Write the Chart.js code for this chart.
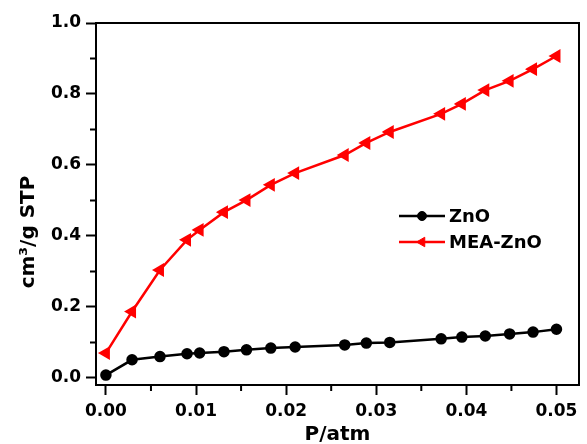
<!DOCTYPE html>
<html>
<head>
<meta charset="utf-8">
<script src="https://cdn.jsdelivr.net/npm/chart.js@4/dist/chart.umd.min.js"></script>
<style>
  html, body { margin: 0; padding: 0; background: #fff; }
  #wrap { width: 587px; height: 444px; }
</style>
</head>
<body>
<div id="wrap"><canvas id="chart"></canvas></div>
<script>
// pressure values (shared by both series)
const pressure = [0.0000, 0.0029, 0.0060, 0.0090, 0.0104, 0.0131, 0.0156, 0.0183, 0.0210,
                  0.0265, 0.0289, 0.0315, 0.0372, 0.0395, 0.0421, 0.0448, 0.0474, 0.0500];
const zno = [0.008, 0.051, 0.060, 0.068, 0.070, 0.074, 0.079, 0.084, 0.087,
             0.093, 0.098, 0.100, 0.110, 0.115, 0.118, 0.124, 0.129, 0.137];
const meaZno = [0.070, 0.187, 0.304, 0.389, 0.417, 0.467, 0.501, 0.544, 0.577,
                0.628, 0.662, 0.693, 0.744, 0.772, 0.811, 0.837, 0.870, 0.907];
const seriesNames = ['ZnO', 'MEA-ZnO'];
const xMinorTicks = [0.005, 0.015, 0.025, 0.035, 0.045];
const yMinorTicks = [0.1, 0.3, 0.5, 0.7, 0.9];
const yTitle = 'cm\u00B3/g STP';
const xTitle = 'P/atm';

const FONT = '"DejaVu Sans", Verdana, sans-serif';

function toPoints(ys) {
  return pressure.map((p, i) => ({x: p, y: ys[i]}));
}

// frame, minor ticks, y title and legend
const decor = {
  id: 'decor',
  afterDraw(chart) {
    const {ctx, chartArea: a, scales} = chart;
    ctx.save();
    ctx.strokeStyle = '#000';
    ctx.lineWidth = 2;
    ctx.strokeRect(a.left, a.top, a.right - a.left, a.bottom - a.top);

    ctx.beginPath();
    xMinorTicks.forEach(v => {
      const px = scales.x.getPixelForValue(v);
      ctx.moveTo(px, a.bottom);
      ctx.lineTo(px, a.bottom + 6);
    });
    yMinorTicks.forEach(v => {
      const py = scales.y.getPixelForValue(v);
      ctx.moveTo(a.left, py);
      ctx.lineTo(a.left - 6, py);
    });
    ctx.stroke();

    // y title
    ctx.save();
    ctx.translate(29, 232);
    ctx.rotate(-Math.PI / 2);
    ctx.font = 'bold 20px ' + FONT;
    ctx.fillStyle = '#000';
    ctx.textAlign = 'center';
    ctx.textBaseline = 'middle';
    ctx.fillText(yTitle, 0, 0);
    ctx.restore();

    // legend
    const rows = [216, 242];
    chart.data.datasets.forEach((ds, i) => {
      const y = rows[i];
      ctx.strokeStyle = ds.borderColor;
      ctx.lineWidth = 2.5;
      ctx.beginPath();
      ctx.moveTo(399, y);
      ctx.lineTo(445, y);
      ctx.stroke();
      ctx.fillStyle = ds.pointBackgroundColor;
      ctx.strokeStyle = ds.pointBorderColor;
      ctx.lineWidth = 1;
      Chart.helpers.drawPoint(ctx, {
        pointStyle: ds.pointStyle,
        rotation: ds.pointRotation || 0,
        radius: ds.pointRadius,
        borderWidth: 1
      }, 422, y);
      ctx.fillStyle = '#000';
      ctx.font = 'bold 18px ' + FONT;
      ctx.textAlign = 'left';
      ctx.textBaseline = 'middle';
      ctx.fillText(ds.label, 449, y + 1);
    });
    ctx.restore();
  }
};

new Chart(document.getElementById('chart'), {
  type: 'scatter',
  data: {
    datasets: [
      {
        label: seriesNames[0],
        data: toPoints(zno),
        showLine: true,
        borderColor: '#000',
        backgroundColor: '#000',
        pointBackgroundColor: '#000',
        pointBorderColor: '#000',
        borderWidth: 2.5,
        pointStyle: 'circle',
        pointRadius: 4.5
      },
      {
        label: seriesNames[1],
        data: toPoints(meaZno),
        showLine: true,
        borderColor: '#f00',
        backgroundColor: '#f00',
        pointBackgroundColor: '#f00',
        pointBorderColor: '#f00',
        borderWidth: 2.5,
        pointStyle: 'triangle',
        pointRotation: -90,
        pointRadius: 5.5
      }
    ]
  },
  options: {
    responsive: true,
    maintainAspectRatio: false,
    animation: false,
    layout: { padding: { left: 0, top: 23, right: 1, bottom: 0 } },
    plugins: {
      legend: { display: false },
      tooltip: { enabled: false }
    },
    scales: {
      x: {
        type: 'linear',
        min: -0.0011,
        max: 0.0525,
        afterFit: s => { s.height = 59; },
        border: { display: true, color: '#000', width: 2 },
        grid: { drawOnChartArea: false, drawTicks: true, tickLength: 10, tickWidth: 2, tickColor: '#000' },
        ticks: {
          stepSize: 0.01,
          includeBounds: false,
          padding: 6,
          maxRotation: 0,
          color: '#000',
          font: { family: FONT, size: 17, weight: 'bold' },
          callback: v => v.toFixed(2)
        },
        title: {
          display: true,
          text: xTitle,
          color: '#000',
          padding: { top: 0, bottom: -3 },
          font: { family: FONT, size: 20, weight: 'bold' }
        }
      },
      y: {
        type: 'linear',
        min: -0.02,
        max: 1.0,
        afterFit: s => { s.width = 96; },
        border: { display: true, color: '#000', width: 2 },
        grid: { drawOnChartArea: false, drawTicks: true, tickLength: 10, tickWidth: 2, tickColor: '#000' },
        ticks: {
          stepSize: 0.2,
          includeBounds: false,
          padding: 5,
          color: '#000',
          font: { family: FONT, size: 17, weight: 'bold' },
          callback: v => v.toFixed(1)
        }
      }
    }
  },
  plugins: [decor]
});
</script>
</body>
</html>
